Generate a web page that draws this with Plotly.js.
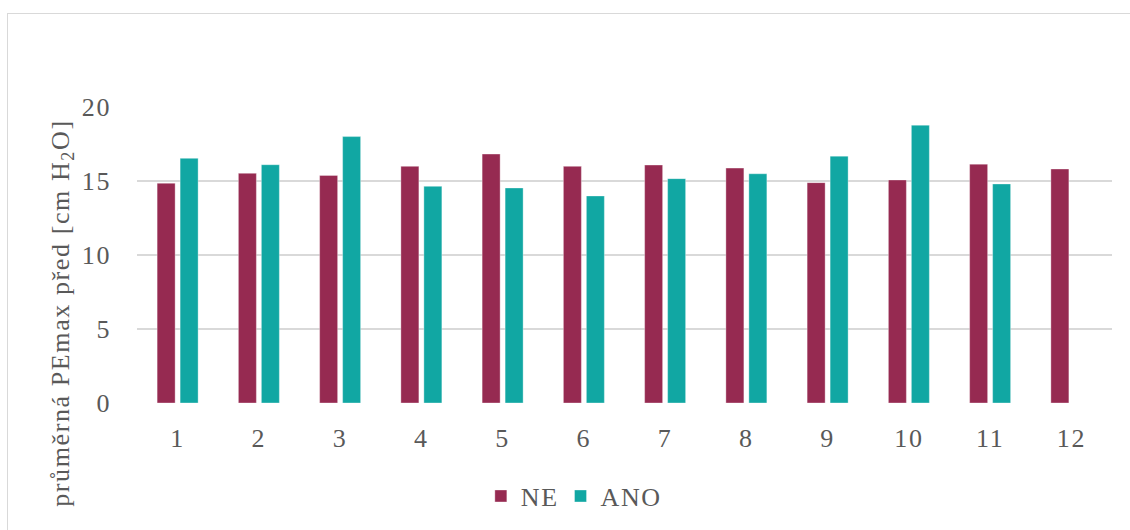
<!DOCTYPE html>
<html>
<head>
<meta charset="utf-8">
<script src="https://cdn.plot.ly/plotly-3.0.1.min.js"></script>
<style>
  html, body { margin: 0; padding: 0; background: #fff; }
  #chart { width: 1130px; height: 530px; position: relative; }
  #chart svg text { letter-spacing: 1.6px; }
  #frame { position: absolute; left: 7px; top: 13px; width: 1140px; height: 540px;
           border: 1px solid #d9d9d9; pointer-events: none; z-index: 5; }
</style>
</head>
<body>
<div id="chart"><div id="frame"></div></div>
<script>
// Skupiny 1–12
const categories = ['1', '2', '3', '4', '5', '6', '7', '8', '9', '10', '11', '12'];
// průměrná PEmax před [cm H2O]
const valuesNE  = [14.85, 15.52, 15.38, 15.99, 16.82, 15.99, 16.08, 15.87, 14.89, 15.07, 16.14, 15.81];
const valuesANO = [16.53, 16.10, 18.00, 14.64, 14.53, 13.99, 15.16, 15.49, 16.68, 18.77, 14.80, null];
const yTicks = [0, 5, 10, 15, 20];

const serif = '"Liberation Serif", "Times New Roman", Times, serif';
const grey = '#595959';
const fs = 26;

const traces = [
  { type: 'bar', name: 'NE', x: categories, y: valuesNE,
    marker: { color: '#962A51', line: { color: 'rgba(255,255,255,0.35)', width: 1 } } },
  { type: 'bar', name: 'ANO', x: categories, y: valuesANO,
    marker: { color: '#11A7A3', line: { color: 'rgba(255,255,255,0.35)', width: 1 } } }
];

const layout = {
  width: 1130, height: 530,
  margin: { l: 137, r: 18, t: 107, b: 126 },
  paper_bgcolor: '#ffffff', plot_bgcolor: '#ffffff',
  barmode: 'group', bargap: 0.434, bargroupgap: 0.217,
  font: { family: serif, size: fs, color: grey },
  showlegend: true,
  legend: { orientation: 'h', x: 0.446, xanchor: 'center', y: -0.31, yanchor: 'middle',
            font: { family: serif, size: fs, color: grey }, itemwidth: 30, tracegroupgap: 0 },
  xaxis: { type: 'category', showgrid: false, zeroline: false, showline: false,
           ticks: '', ticklabelstandoff: 17, tickfont: { family: serif, size: fs, color: grey } },
  yaxis: { range: [0, 20], tickvals: yTicks, showgrid: true, gridcolor: '#d9d9d9', gridwidth: 1.5,
           zeroline: false, showline: false, ticks: '', ticklabelstandoff: 25,
           tickfont: { family: serif, size: fs, color: grey } },
  annotations: [{
    text: 'průměrná PEmax před [cm H<sub>2</sub>O]', textangle: -90,
    xref: 'paper', yref: 'paper', x: -0.077, y: 0.306, xanchor: 'center', yanchor: 'middle',
    showarrow: false, font: { family: serif, size: fs, color: grey }
  }]
};

Plotly.newPlot('chart', traces, layout, { displayModeBar: false, staticPlot: true });
</script>
</body>
</html>
